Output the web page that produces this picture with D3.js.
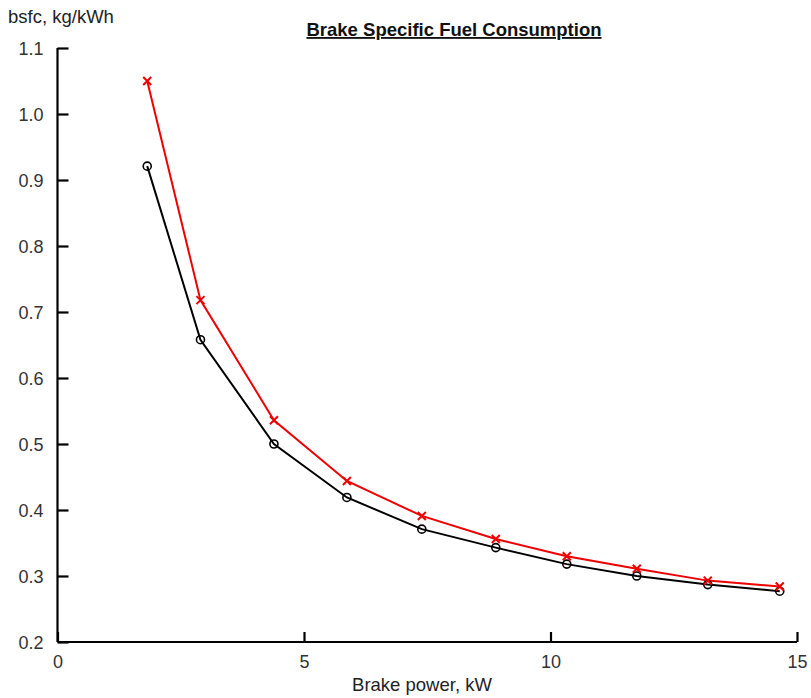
<!DOCTYPE html>
<html><head><meta charset="utf-8">
<script src="https://cdn.jsdelivr.net/npm/d3@7"></script>
<style>body{margin:0;background:#fff;} svg{display:block;} text{font-family:"Liberation Sans",Arial,sans-serif;}</style>
</head><body><svg id="c" width="811" height="698"></svg>
<script>
const power = [1.82, 2.90, 4.39, 5.87, 7.39, 8.89, 10.33, 11.75, 13.19, 14.65];
const bsfcRed = [1.050, 0.718, 0.536, 0.444, 0.391, 0.356, 0.330, 0.311, 0.293, 0.284];
const bsfcBlack = [0.921, 0.658, 0.500, 0.419, 0.371, 0.343, 0.318, 0.300, 0.287, 0.277];
const xTicks = [0, 5, 10, 15];
const yTicks = [0.2, 0.3, 0.4, 0.5, 0.6, 0.7, 0.8, 0.9, 1.0, 1.1];

const svg = d3.select("#c");
const x = d3.scaleLinear().domain([0, 15]).range([57.5, 797]);
const y = d3.scaleLinear().domain([0.2, 1.1]).range([642, 48]);

const xAxis = svg.append("g").attr("transform", "translate(0,642)")
  .call(d3.axisBottom(x).tickValues(xTicks).tickSize(-10).tickPadding(13).tickFormat(d3.format("d")));
const yAxis = svg.append("g").attr("transform", "translate(57.5,0)")
  .call(d3.axisLeft(y).tickValues(yTicks).tickSize(-11).tickPadding(14).tickFormat(d3.format(".1f")));
[xAxis, yAxis].forEach(a => {
  a.select(".domain").attr("stroke", "#000").attr("stroke-width", 2.2);
  a.selectAll(".tick line").attr("stroke", "#000").attr("stroke-width", 2.2);
  a.selectAll(".tick text").attr("fill", "#333").style("font-size", "18px").style("font-family", "Liberation Sans, Arial, sans-serif");
});
yAxis.select(".domain").attr("d", "M0,642V48");
xAxis.select(".domain").attr("d", "M57.5,0H797");
yAxis.selectAll(".tick text").attr("dy", "0.35em");

const line = d3.line().x((d, i) => x(power[i])).y(d => y(d));

svg.append("path").datum(bsfcBlack).attr("d", line).attr("fill", "none").attr("stroke", "#000").attr("stroke-width", 2);
svg.append("path").datum(bsfcRed).attr("d", line).attr("fill", "none").attr("stroke", "#e00").attr("stroke-width", 2);

svg.selectAll(".o").data(bsfcBlack).enter().append("circle")
  .attr("cx", (d, i) => x(power[i])).attr("cy", d => y(d)).attr("r", 4)
  .attr("fill", "none").attr("stroke", "#000").attr("stroke-width", 1.6);
svg.selectAll(".xm").data(bsfcRed).enter().append("path")
  .attr("d", (d, i) => { const cx = x(power[i]), cy = y(d), s = 4; return `M${cx-s},${cy-s}L${cx+s},${cy+s}M${cx+s},${cy-s}L${cx-s},${cy+s}`; })
  .attr("stroke", "#e00").attr("stroke-width", 2);

svg.append("text").attr("x", 454).attr("y", 36).attr("text-anchor", "middle")
  .style("font-size", "18.5px").style("font-weight", "bold").attr("fill", "#111")
  .attr("text-decoration", "underline").text("Brake Specific Fuel Consumption");
svg.append("text").attr("x", 8).attr("y", 23).style("font-size", "18.5px").attr("fill", "#222").text("bsfc, kg/kWh");
svg.append("text").attr("x", 422).attr("y", 691).attr("text-anchor", "middle").style("font-size", "18.5px").attr("fill", "#222").text("Brake power, kW");
</script></body></html>
